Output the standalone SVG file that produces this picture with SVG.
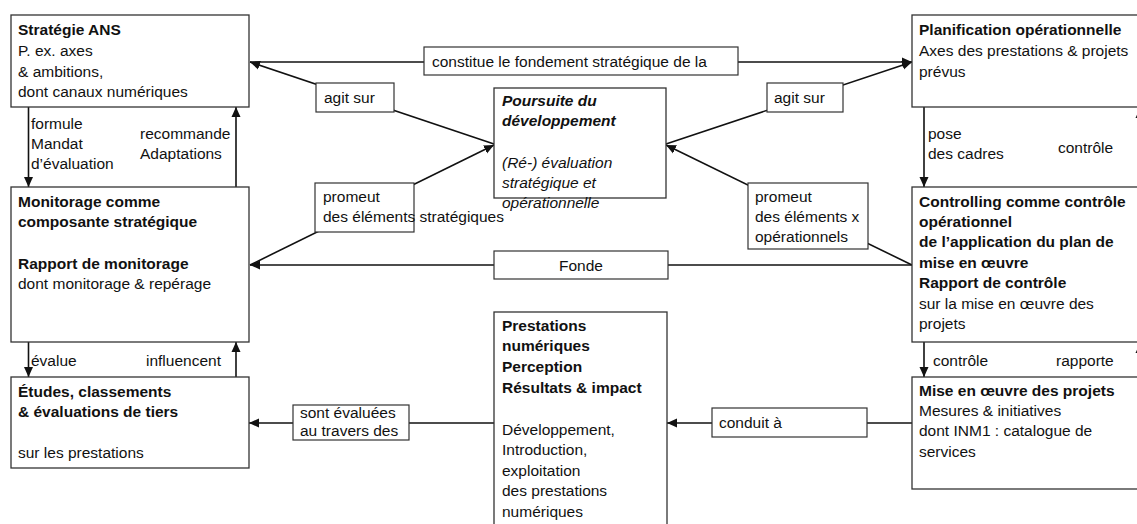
<svg xmlns="http://www.w3.org/2000/svg" width="1137" height="524" viewBox="0 0 1137 524">
<style>
text{font-family:"Liberation Sans",Arial,sans-serif;font-size:15.5px;fill:#111}
.b{font-weight:bold}
.bi{font-weight:bold;font-style:italic}
.i{font-style:italic}
.box{fill:#fff;stroke:#333;stroke-width:1.3}
.lbl{fill:#fff;stroke:#333;stroke-width:1.2}
.c{fill:none;stroke:#111;stroke-width:1.6}
</style>
<defs>
<marker id="ah" viewBox="0 0 10 10" refX="10" refY="5" markerWidth="10" markerHeight="10" markerUnits="userSpaceOnUse" orient="auto">
<path d="M0,0.5 L10,5 L0,9.5 Z" fill="#111"/>
</marker>
</defs>

<g id="connectors">
<line class="c" x1="28.5" y1="107" x2="28.5" y2="187" marker-end="url(#ah)"/>
<line class="c" x1="236" y1="187" x2="236" y2="107" marker-end="url(#ah)"/>
<line class="c" x1="28.5" y1="342" x2="28.5" y2="377" marker-end="url(#ah)"/>
<line class="c" x1="236" y1="377" x2="236" y2="342" marker-end="url(#ah)"/>
<line class="c" x1="924" y1="107" x2="924" y2="187" marker-end="url(#ah)"/>
<line class="c" x1="1140" y1="187" x2="1140" y2="108" marker-end="url(#ah)"/>
<line class="c" x1="924" y1="342" x2="924" y2="377" marker-end="url(#ah)"/>
<line class="c" x1="1140" y1="377" x2="1140" y2="343" marker-end="url(#ah)"/>
<line class="c" x1="250" y1="62" x2="912" y2="62" marker-end="url(#ah)"/>
<line class="c" x1="494" y1="144" x2="250" y2="62" marker-end="url(#ah)"/>
<line class="c" x1="666" y1="144" x2="912" y2="62" marker-end="url(#ah)"/>
<line class="c" x1="250" y1="265" x2="494" y2="145" marker-end="url(#ah)"/>
<line class="c" x1="912" y1="265" x2="666" y2="145" marker-end="url(#ah)"/>
<line class="c" x1="912" y1="265" x2="250" y2="265" marker-end="url(#ah)"/>
<line class="c" x1="494" y1="423" x2="249" y2="423" marker-end="url(#ah)"/>
<line class="c" x1="912" y1="423" x2="667" y2="423" marker-end="url(#ah)"/>

<g id="lbl-constitue"><rect class="lbl" x="424" y="47" width="314" height="28"/><text x="432" y="67">constitue le fondement stratégique de la</text></g>
<g id="lbl-agit-l"><rect class="lbl" x="316" y="83" width="78" height="29"/><text x="324" y="103">agit sur</text></g>
<g id="lbl-agit-r"><rect class="lbl" x="767" y="83" width="76" height="29"/><text x="774" y="103">agit sur</text></g>
<g id="lbl-promeut-l"><rect class="lbl" x="315" y="183" width="99" height="49"/><text x="323" y="202">promeut</text><text x="323" y="222">des éléments stratégiques</text></g>
<g id="lbl-promeut-r"><rect class="lbl" x="748" y="183" width="120" height="66"/><text x="755" y="202">promeut</text><text x="755" y="222">des éléments x</text><text x="755" y="242">opérationnels</text></g>
<g id="lbl-fonde"><rect class="lbl" x="494" y="251" width="174" height="28"/><text x="581" y="271" text-anchor="middle">Fonde</text></g>
<g id="lbl-evaluees"><rect class="lbl" x="293" y="405" width="116" height="35"/><text x="300" y="418">sont évaluées</text><text x="300" y="436">au travers des</text></g>
<g id="lbl-conduit"><rect class="lbl" x="712" y="408" width="155" height="29"/><text x="719" y="428">conduit à</text></g>

<text x="31" y="129">formule</text>
<text x="31" y="149">Mandat</text>
<text x="31" y="169">d’évaluation</text>
<text x="140" y="139">recommande</text>
<text x="140" y="159">Adaptations</text>
<text x="31" y="366">évalue</text>
<text x="146" y="366">influencent</text>
<text x="928" y="139">pose</text>
<text x="928" y="159">des cadres</text>
<text x="1058" y="153">contrôle</text>
<text x="933" y="366">contrôle</text>
<text x="1056" y="366">rapporte</text>
</g>

<g id="strategie">
<rect class="box" x="11" y="15" width="238" height="92"/>
<text x="18" y="35" class="b">Stratégie ANS</text>
<text x="18" y="56">P. ex. axes</text>
<text x="18" y="77">&amp; ambitions,</text>
<text x="18" y="97">dont canaux numériques</text>
</g>

<g id="monitorage">
<rect class="box" x="11" y="187" width="238" height="155"/>
<text x="18" y="207" class="b">Monitorage comme</text>
<text x="18" y="227" class="b">composante stratégique</text>
<text x="18" y="269" class="b">Rapport de monitorage</text>
<text x="18" y="289">dont monitorage &amp; repérage</text>
</g>

<g id="etudes">
<rect class="box" x="11" y="377" width="238" height="91"/>
<text x="18" y="397" class="b">Études, classements</text>
<text x="18" y="417" class="b">&amp; évaluations de tiers</text>
<text x="18" y="458">sur les prestations</text>
</g>

<g id="poursuite">
<rect class="box" x="494" y="88" width="172" height="110"/>
<text x="502" y="106" class="bi">Poursuite du</text>
<text x="502" y="126" class="bi">développement</text>
<text x="502" y="168" class="i">(Ré-) évaluation</text>
<text x="502" y="188" class="i">stratégique et</text>
<text x="502" y="208" class="i">opérationnelle</text>
</g>

<g id="prestations">
<rect class="box" x="494" y="312" width="173" height="230"/>
<text x="502" y="331" class="b">Prestations</text>
<text x="502" y="351" class="b">numériques</text>
<text x="502" y="372" class="b">Perception</text>
<text x="502" y="393" class="b">Résultats &amp; impact</text>
<text x="502" y="435">Développement,</text>
<text x="502" y="455">Introduction,</text>
<text x="502" y="476">exploitation</text>
<text x="502" y="496">des prestations</text>
<text x="502" y="517">numériques</text>
</g>

<g id="planification">
<rect class="box" x="912" y="15" width="240" height="92"/>
<text x="919" y="35" class="b">Planification opérationnelle</text>
<text x="919" y="56">Axes des prestations &amp; projets</text>
<text x="919" y="77">prévus</text>
</g>

<g id="controlling">
<rect class="box" x="912" y="187" width="240" height="155"/>
<text x="919" y="207" class="b">Controlling comme contrôle</text>
<text x="919" y="227" class="b">opérationnel</text>
<text x="919" y="247" class="b">de l’application du plan de</text>
<text x="919" y="268" class="b">mise en œuvre</text>
<text x="919" y="288" class="b">Rapport de contrôle</text>
<text x="919" y="309">sur la mise en œuvre des</text>
<text x="919" y="329">projets</text>
</g>

<g id="mise">
<rect class="box" x="912" y="377" width="240" height="112"/>
<text x="919" y="396" class="b">Mise en œuvre des projets</text>
<text x="919" y="416">Mesures &amp; initiatives</text>
<text x="919" y="436">dont INM1 : catalogue de</text>
<text x="919" y="457">services</text>
</g>
</svg>
